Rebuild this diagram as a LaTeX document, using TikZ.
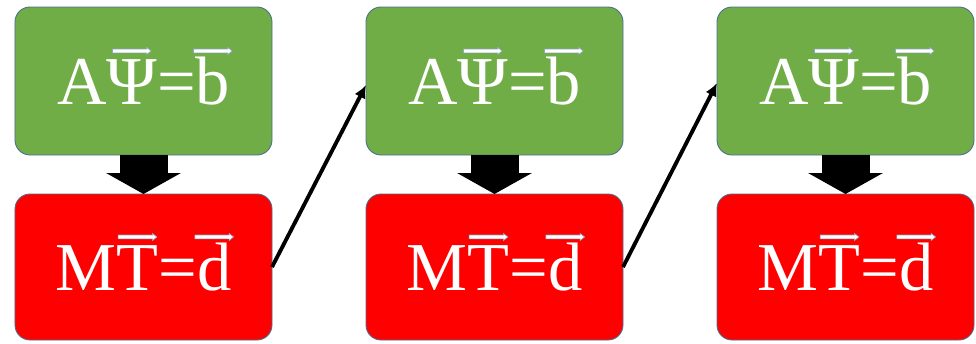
\documentclass[tikz,border=0pt]{standalone}
\usepackage{fontspec}
\setmainfont{Liberation Serif}
\usepackage{tikz}
\usetikzlibrary{arrows.meta,positioning}
\definecolor{eqgreen}{HTML}{70AD47}
\definecolor{eqred}{HTML}{FF0000}
\definecolor{boxedge}{HTML}{4E6E8E}
\definecolor{vecedge}{HTML}{8FA6C6}
\tikzset{
  eqbox/.style={draw=boxedge,fill=eqgreen,line width=0.5pt,rounded corners=0.3cm,
                minimum width=5.14cm,minimum height=2.96cm,outer sep=0pt,
                text=white,font=\fontsize{39}{42}\selectfont,align=center},
  vecbox/.style={eqbox,fill=eqred,minimum height=2.92cm},
  blockarr/.style={-{Triangle[length=0.42cm,width=1.48cm]},line width=0.96cm,black},
  linkarr/.style={-{Latex[length=2.6mm,width=2.4mm]},line width=2.2pt,black},
  vecstyle/.style={draw=vecedge,fill=white,line width=0.35pt,sharp corners}
}
% small hollow arrow put over a letter
\newsavebox\vecbin
\newcommand{\vecarrow}[1]{%
  \sbox\vecbin{#1}%
  \rlap{\hbox to \wd\vecbin{\hss\smash{\raisebox{0.78em}{\tikz[baseline=0pt]
    \draw[vecstyle] (0,-1.1pt) -- (19.5pt,-1.1pt) -- (19.5pt,-2pt) -- (22pt,0pt)
      -- (19.5pt,2pt) -- (19.5pt,1.1pt) -- (0,1.1pt) -- cycle;}}\hss}}%
  \usebox\vecbin}

\begin{document}
\begin{tikzpicture}
  \useasboundingbox (0,0) rectangle (19.52,6.86);

  % three steps, each one equation above the next
  \node[eqbox] (eq1) at (2.87,5.24) {A\vecarrow{Ψ}=\vecarrow{b}};
  \node[vecbox,below=0.78cm of eq1] (vec1) {M\vecarrow{T}=\vecarrow{d}};
  \node[eqbox,right=1.88cm of eq1] (eq2) {A\vecarrow{Ψ}=\vecarrow{b}};
  \node[vecbox,below=0.78cm of eq2] (vec2) {M\vecarrow{T}=\vecarrow{d}};
  \node[eqbox,right=1.88cm of eq2] (eq3) {A\vecarrow{Ψ}=\vecarrow{b}};
  \node[vecbox,below=0.78cm of eq3] (vec3) {M\vecarrow{T}=\vecarrow{d}};

  % fat arrows down
  \foreach \i in {1,2,3} {
    \draw[blockarr] (eq\i.south) -- (vec\i.north);
  }

  % thin arrows to the next step
  \draw[linkarr] (vec1.east) -- ([yshift=-0.08cm]eq2.west);
  \draw[linkarr] (vec2.east) -- ([yshift=-0.04cm]eq3.west);
\end{tikzpicture}
\end{document}
